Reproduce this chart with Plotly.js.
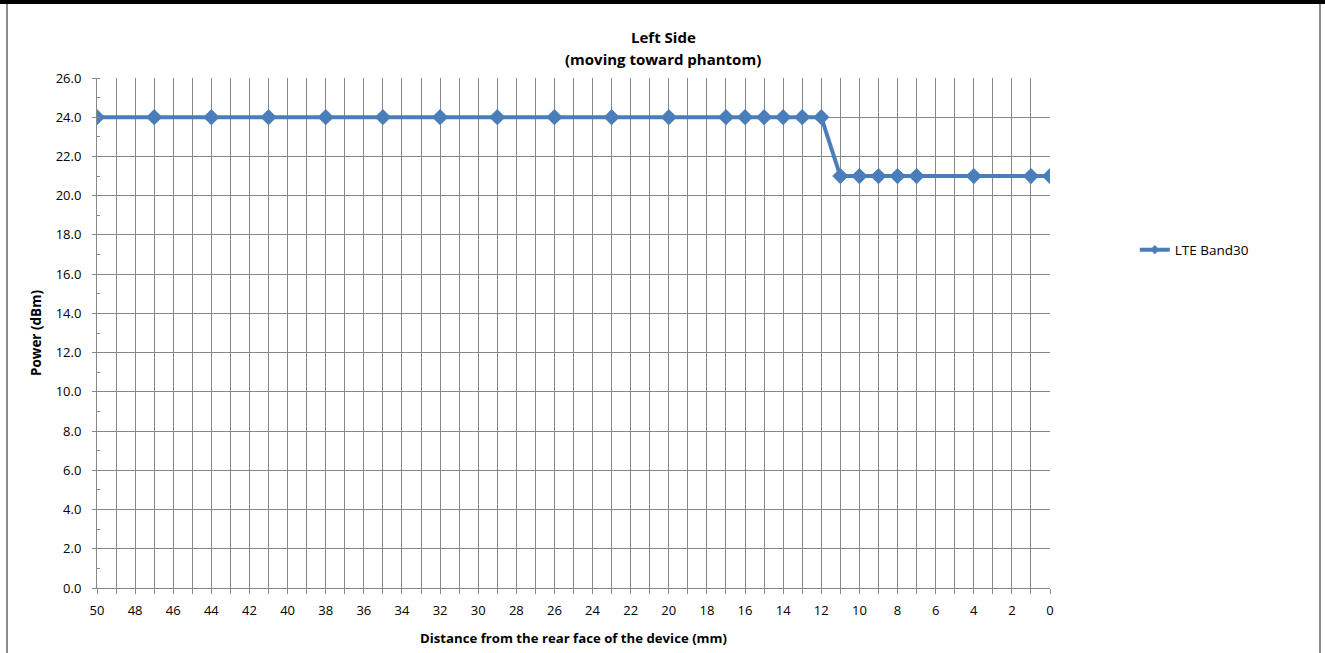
<!DOCTYPE html>
<html>
<head>
<meta charset="utf-8">
<script src="https://cdn.plot.ly/plotly-3.0.1.min.js"></script>
<style>
  html, body { margin: 0; padding: 0; background: #ffffff; }
  #wrap { position: relative; width: 1325px; height: 653px; overflow: hidden; }
  #chart { position: absolute; left: 0; top: 0; width: 1325px; height: 653px; }
  .topbar { position: absolute; left: 0; top: 0; width: 1325px; height: 4px; background: #000; }
  .lborder { position: absolute; left: 6px; top: 4px; width: 2px; height: 649px; background: #8c8c8c; }
  .rborder { position: absolute; left: 1319px; top: 4px; width: 2px; height: 649px; background: #8c8c8c; }
</style>
</head>
<body>
<div id="wrap">
  <div id="chart"></div>
  <div class="topbar"></div>
  <div class="lborder"></div>
  <div class="rborder"></div>
</div>
<script>
// Data
const distance = [50, 47, 44, 41, 38, 35, 32, 29, 26, 23, 20, 17, 16, 15, 14, 13, 12, 11, 10, 9, 8, 7, 4, 1, 0];
const power = [24, 24, 24, 24, 24, 24, 24, 24, 24, 24, 24, 24, 24, 24, 24, 24, 24, 21, 21, 21, 21, 21, 21, 21, 21];
const seriesName = 'LTE Band30';
const titleLine1 = '<b>Left Side</b>';
const titleLine2 = '<b>(moving toward phantom)</b>';
const xTitle = '<b>Distance from the rear face of the device (mm)</b>';
const yTitle = '<b>Power (dBm)</b>';

const FONT = 'Open Sans, Lato, sans-serif';
const GRID = '#878787';
const BLUE = '#4a7ebb';

const mainTrace = {
  type: 'scatter',
  mode: 'lines+markers',
  x: distance,
  y: power,
  name: seriesName,
  showlegend: false,
  line: { color: BLUE, width: 4 },
  marker: { symbol: 'diamond', size: 12.5, color: BLUE }
};
// legend entry only (smaller marker as in the reference legend)
const legendTrace = {
  type: 'scatter',
  mode: 'lines+markers',
  x: [null],
  y: [null],
  name: seriesName,
  showlegend: true,
  line: { color: BLUE, width: 4 },
  marker: { symbol: 'diamond', size: 7, color: BLUE }
};

const titleFont = { family: FONT, size: 15, color: '#000' };

const layout = {
  width: 1325,
  height: 653,
  margin: { l: 97, r: 275, t: 78, b: 65, pad: 0 },
  paper_bgcolor: '#ffffff',
  plot_bgcolor: '#ffffff',
  font: { family: FONT, size: 12, color: '#000' },
  showlegend: true,
  legend: {
    x: 1.089, xanchor: 'left',
    y: 0.663, yanchor: 'middle',
    font: { family: FONT, size: 13.5, color: '#000' },
    bgcolor: 'rgba(0,0,0,0)'
  },
  annotations: [
    { text: titleLine1, xref: 'paper', yref: 'paper', x: (663 - 97) / 953, y: (588 - 37) / 510,
      xanchor: 'center', yanchor: 'middle', showarrow: false, font: titleFont },
    { text: titleLine2, xref: 'paper', yref: 'paper', x: (663 - 97) / 953, y: (588 - 59) / 510,
      xanchor: 'center', yanchor: 'middle', showarrow: false, font: titleFont }
  ],
  xaxis: {
    range: [50, 0],
    autorange: false,
    dtick: 2,
    tick0: 0,
    showgrid: true,
    gridcolor: GRID,
    gridwidth: 1,
    showline: true,
    linecolor: GRID,
    linewidth: 1,
    ticks: 'outside',
    ticklen: 5,
    tickcolor: GRID,
    ticklabelstandoff: 5,
    tickfont: { family: FONT, size: 13, color: '#000' },
    zeroline: false,
    minor: { dtick: 1, tick0: 0, showgrid: true, gridcolor: GRID, gridwidth: 1, ticks: 'outside', ticklen: 5, tickcolor: GRID },
    title: { text: xTitle, font: { family: FONT, size: 13.2, color: '#000' }, standoff: 16 }
  },
  yaxis: {
    range: [0, 26],
    autorange: false,
    dtick: 2,
    tick0: 0,
    tickformat: '.1f',
    showgrid: true,
    gridcolor: GRID,
    gridwidth: 1,
    showline: true,
    linecolor: GRID,
    linewidth: 1,
    ticks: 'outside',
    ticklen: 4,
    tickcolor: GRID,
    ticklabelstandoff: 8,
    tickfont: { family: FONT, size: 13, color: '#000' },
    zeroline: false,
    minor: { dtick: 1, tick0: 0, showgrid: false, ticks: 'inside', ticklen: 3, tickcolor: GRID },
    title: { text: yTitle, font: { family: FONT, size: 13.5, color: '#000' }, standoff: 10 }
  }
};

Plotly.newPlot('chart', [mainTrace, legendTrace], layout, { displayModeBar: false, staticPlot: true });
</script>
</body>
</html>
